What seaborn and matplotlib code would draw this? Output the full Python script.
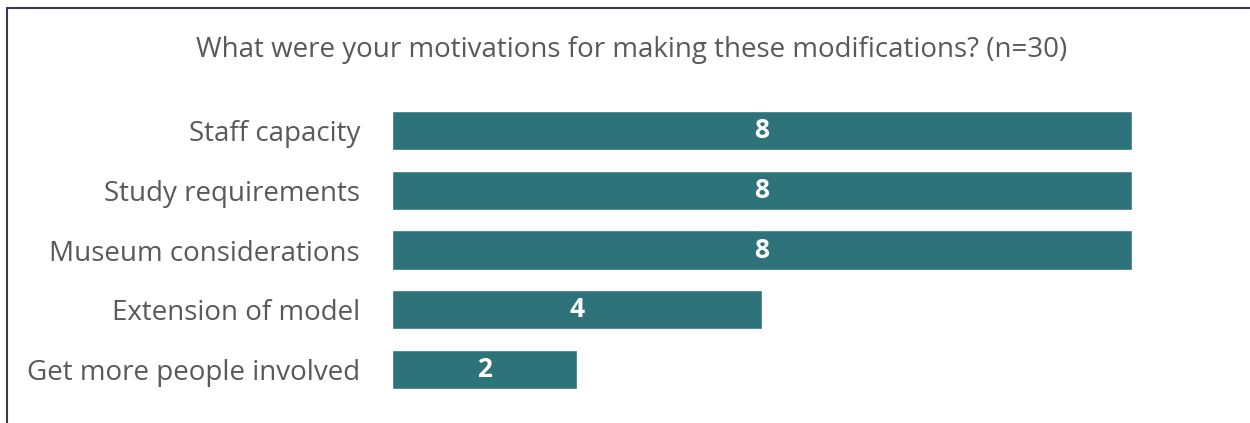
import matplotlib
matplotlib.use("Agg")
import matplotlib.pyplot as plt
from matplotlib.lines import Line2D
import seaborn as sns
import pandas as pd

categories = ["Staff capacity", "Study requirements", "Museum considerations",
              "Extension of model", "Get more people involved"]
counts = [8, 8, 8, 4, 2]
title = "What were your motivations for making these modifications? (n=30)"

sns.set_theme(style="white")
plt.rcParams['font.family'] = ['Open Sans', 'DejaVu Sans']

df = pd.DataFrame({"category": categories, "count": counts})

fig = plt.figure(figsize=(12.5, 4.23), dpi=100)
ax = fig.add_axes([392/1250, 1 - 399/423, (1132 - 392)/1250, (399 - 101)/423])
sns.barplot(data=df, y="category", x="count", color="#2E727A", saturation=1,
            width=0.66, ax=ax, orient="h")
ax.set_xlim(0, 8)
ax.set_ylim(4.5, -0.5)
ax.set_xlabel("")
ax.set_ylabel("")
ax.set_xticks([])
for s in ax.spines.values():
    s.set_visible(False)
ax.tick_params(axis="y", length=0, pad=23, labelsize=20, labelcolor="#595959")
for c in ax.containers:
    ax.bar_label(c, label_type="center", color="white", fontweight="bold", fontsize=19)

fig.text(632/1250, 1 - 50/423, title, ha="center", va="center", fontsize=20, color="#595959")

lc = "#3b3950"
fig.add_artist(Line2D([7/1250, 7/1250], [0, 1 - 8/423], color=lc, lw=1.5, transform=fig.transFigure))
fig.add_artist(Line2D([7/1250, 1], [1 - 8/423, 1 - 8/423], color=lc, lw=1.5, transform=fig.transFigure))

fig.savefig("out.png", dpi=100)
